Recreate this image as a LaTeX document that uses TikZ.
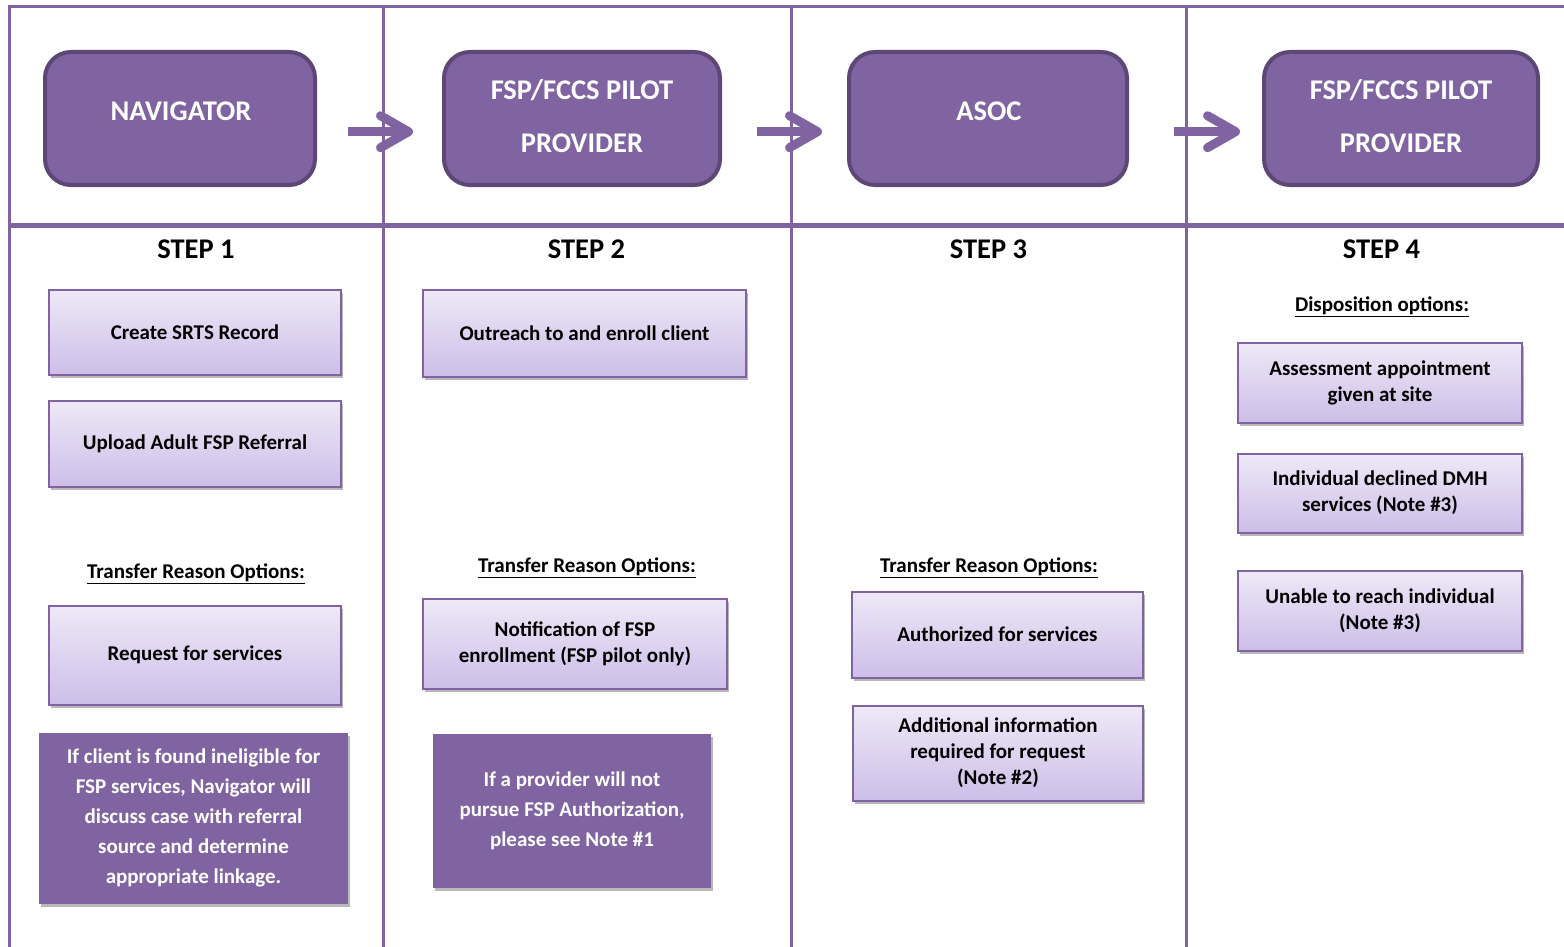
\documentclass[tikz,border=0pt]{standalone}
\usepackage{fontspec}
\setmainfont{Carlito}
\usetikzlibrary{arrows.meta,shadows}
\definecolor{purp}{HTML}{8064A2}
\definecolor{purpdark}{HTML}{5C4776}
\definecolor{lavtop}{RGB}{238,233,247}
\definecolor{lavbot}{RGB}{205,190,232}
\begin{document}
\begin{tikzpicture}[x=1pt,y=-1pt,
  grid/.style={draw=purp,line width=3pt},
  hdrbox/.style={draw=purpdark,fill=purp,line width=4pt,rounded corners=26pt,inner sep=0pt,outer sep=0pt,minimum height=133pt},
  hdrtext/.style={text=white,font=\fontsize{28.5}{53}\selectfont\bfseries,align=center,inner sep=0pt},
  steplabel/.style={font=\fontsize{28.5}{34}\selectfont\bfseries,inner sep=0pt,anchor=base},
  heading/.style={font=\fontsize{21}{26}\selectfont\bfseries,inner sep=0pt,anchor=base},
  shad/.style={drop shadow={shadow xshift=1.5pt,shadow yshift=-3pt,opacity=0.28,fill=black}},
  optbox/.style={shad,draw=purp,line width=2pt,top color=lavtop,bottom color=lavbot,inner sep=0pt,outer sep=0pt,align=center,font=\fontsize{21}{26}\selectfont\bfseries},
  notebox/.style={shad,fill=purp,inner sep=0pt,outer sep=0pt,align=center,text=white,font=\fontsize{21}{30}\selectfont\bfseries},
  flow/.style={draw=purp,line width=9pt,-{Straight Barb[length=28pt,width=32pt,round]},
    preaction={draw=black,opacity=0.18,transform canvas={xshift=1.5pt,yshift=-3pt}}}
]
\useasboundingbox (0,0) rectangle (1564,947);
% grid
\draw[grid] (8,6.5) -- (1564,6.5);
\draw[grid] (9.5,5) -- (9.5,947);
\draw[grid] (383.5,5) -- (383.5,947);
\draw[grid] (791.3,5) -- (791.3,947);
\draw[grid] (1186.5,5) -- (1186.5,947);
\draw[grid,line width=5.5pt] (8,225.5) -- (1564,225.5);
% header boxes
\node[hdrbox,minimum width=270pt] (nav) at (180,118.5) {};
\node[hdrbox,minimum width=276pt] (prov1) at (582,118.5) {};
\node[hdrbox,minimum width=278pt] (asoc) at (988,118.5) {};
\node[hdrbox,minimum width=274pt] (prov2) at (1401,118.5) {};
\node[hdrtext] (navt) at (181,111) {NAVIGATOR};
\node[hdrtext] (prov1t) at (582,116.5) {FSP/FCCS PILOT\\PROVIDER};
\node[hdrtext] (asoct) at (989,111) {ASOC};
\node[hdrtext] (prov2t) at (1401,116.5) {FSP/FCCS PILOT\\PROVIDER};
% arrows
\draw[flow,shorten <=33pt,shorten >=31pt] ([yshift=-13.2pt]nav.east) -- ([yshift=-13.2pt]prov1.west);
\draw[flow,shorten <=37pt,shorten >=27pt] ([yshift=-13.2pt]prov1.east) -- ([yshift=-13.2pt]asoc.west);
\draw[flow,shorten <=47pt,shorten >=24pt] ([yshift=-13.2pt]asoc.east) -- ([yshift=-13.2pt]prov2.west);
% step labels
\node[steplabel] (s1) at (196,258) {STEP 1};
\node[steplabel] (s2) at (586.5,258) {STEP 2};
\node[steplabel] (s3) at (988.5,258) {STEP 3};
\node[steplabel] (s4) at (1381.5,258) {STEP 4};
% headings
\node[heading] (h1) at (196,578) {\underline{Transfer Reason Options:}};
\node[heading] (h2) at (587,572) {\underline{Transfer Reason Options:}};
\node[heading] (h3) at (989,572) {\underline{Transfer Reason Options:}};
\node[heading] (h4) at (1382,311) {\underline{Disposition options:}};
% step 1
\node[optbox,minimum width=292pt,minimum height=85pt] (srts) at (195,332) {Create SRTS Record};
\node[optbox,minimum width=292pt,minimum height=86pt] (upl) at (195,443.5) {Upload Adult FSP Referral};
\node[optbox,minimum width=292pt,minimum height=99pt] (req) at (195,655) {Request for services};
\node[notebox,minimum width=309pt,minimum height=171pt] (note1) at (193.5,818) {If client is found ineligible for\\FSP services, Navigator will\\discuss case with referral\\source and determine\\appropriate linkage.};
% step 2
\node[optbox,minimum width=323pt,minimum height=87pt] (outr) at (584.5,333) {Outreach to and enroll client};
\node[optbox,minimum width=304pt,minimum height=90pt] (notif) at (575,643.5) {Notification of FSP\\enrollment (FSP pilot only)};
\node[notebox,minimum width=278pt,minimum height=154pt] (note2) at (572,810.5) {If a provider will not\\pursue FSP Authorization,\\please see Note \#1};
% step 3
\node[optbox,minimum width=291pt,minimum height=86pt] (auth) at (997.5,634.5) {Authorized for services};
\node[optbox,minimum width=290pt,minimum height=95pt] (addl) at (998,753) {Additional information\\required for request\\(Note \#2)};
% step 4
\node[optbox,minimum width=284pt,minimum height=80pt] (assess) at (1380,382.5) {Assessment appointment\\given at site};
\node[optbox,minimum width=284pt,minimum height=79pt] (decl) at (1380,493) {Individual declined DMH\\services (Note \#3)};
\node[optbox,minimum width=284pt,minimum height=80pt] (unab) at (1380,611) {Unable to reach individual\\(Note \#3)};
\end{tikzpicture}
\end{document}
